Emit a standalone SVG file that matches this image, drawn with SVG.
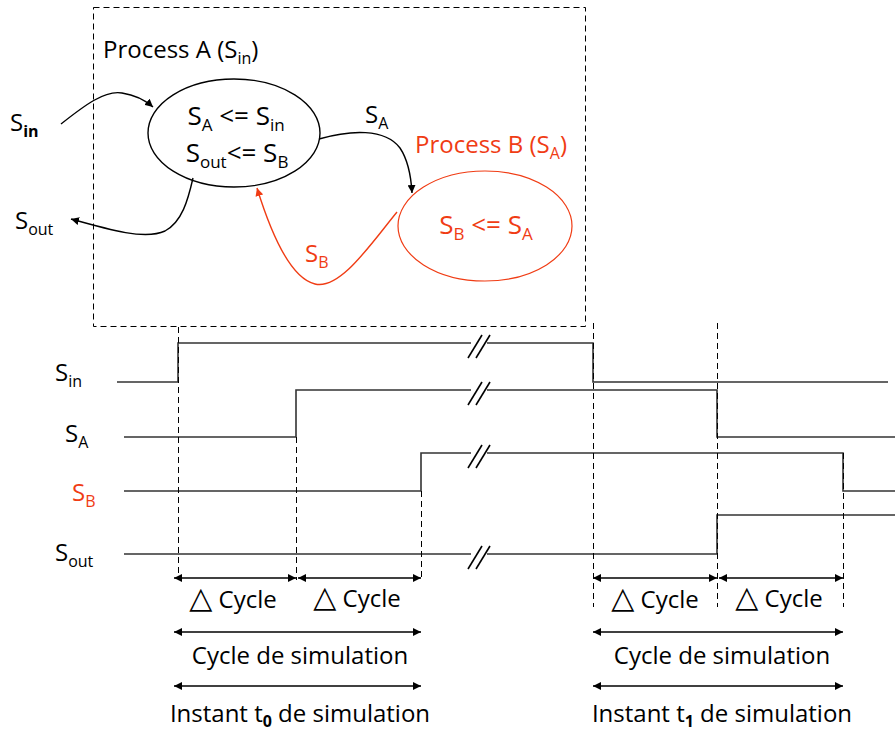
<svg xmlns="http://www.w3.org/2000/svg" width="895" height="731" viewBox="0 0 895 731">
<style>
text{font-family:"Open Sans","Noto Sans","DejaVu Sans",sans-serif;fill:#000}
.r{fill:#f03c14}
.lbl{font-size:24px}
.big{font-size:26px}
.sub{font-size:16px}
.sub2{font-size:17px}
.tri{font-size:30px}
.ln{fill:none;stroke:#000;stroke-width:1.4}
.rl{fill:none;stroke:#f03c14;stroke-width:1.4}
.sig{fill:none;stroke:#333;stroke-width:1.6}
.dash{fill:none;stroke:#000;stroke-width:1;stroke-dasharray:6,4}
.mk{stroke:#000;stroke-width:1.6}
.mid{text-anchor:middle}
</style>
<defs>
<marker id="ah" viewBox="0 0 10 10" refX="10" refY="5" markerWidth="8" markerHeight="8" markerUnits="userSpaceOnUse" orient="auto-start-reverse"><path d="M0,0 L10,5 L0,10 z" fill="#000"/></marker>
<marker id="ahr" viewBox="0 0 10 10" refX="10" refY="5" markerWidth="8" markerHeight="8" markerUnits="userSpaceOnUse" orient="auto"><path d="M0,0 L10,5 L0,10 z" fill="#f03c14"/></marker>
</defs>

<rect x="93.5" y="7.5" width="492" height="319" class="dash"/>

<g id="processA">
<text x="103" y="58" class="lbl">Process A (S<tspan class="sub" dy="6">in</tspan><tspan dy="-6">)</tspan></text>
<ellipse cx="234" cy="133" rx="86" ry="54" class="ln"/>
<text x="236" y="125" class="big mid">S<tspan class="sub2" dy="6">A</tspan><tspan dy="-6"> &lt;= S</tspan><tspan class="sub2" dy="6">in</tspan></text>
<text x="237" y="162" class="big mid">S<tspan class="sub2" dy="6">out</tspan><tspan dy="-6">&lt;= S</tspan><tspan class="sub2" dy="6">B</tspan></text>
</g>

<g id="processB">
<text x="415" y="153" class="lbl r">Process B (S<tspan class="sub r" dy="6">A</tspan><tspan dy="-6">)</tspan></text>
<ellipse cx="485" cy="226" rx="87" ry="55" fill="none" stroke="#f03c14" stroke-width="1.2"/>
<text x="486" y="234" class="big mid r">S<tspan class="sub2 r" dy="6">B</tspan><tspan dy="-6"> &lt;= S</tspan><tspan class="sub2 r" dy="6">A</tspan></text>
</g>

<g id="labels-top">
<text x="10" y="131" class="lbl">S<tspan class="sub" dy="6" font-weight="bold">in</tspan></text>
<text x="15" y="229" class="lbl">S<tspan class="sub" dy="6">out</tspan></text>
<text x="365" y="123" class="lbl">S<tspan class="sub" dy="6">A</tspan></text>
<text x="305" y="262" class="lbl r">S<tspan class="sub r" dy="6">B</tspan></text>
</g>

<g id="connectors">
<path d="M61,124 C85,105 105,90 122,93 C135,95 145,100 153,107" class="ln" marker-end="url(#ah)"/>
<path d="M193,178 C188,200 182,222 165,231 C145,240 110,230 71,219" class="ln" marker-end="url(#ah)"/>
<path d="M319,139 C350,130 385,128 400,148 C408,160 411,175 412,193" class="ln" marker-end="url(#ah)"/>
<path d="M397,212 C370,245 340,290 315,284 C290,278 270,230 257,188" class="rl" marker-end="url(#ahr)"/>
</g>

<g id="timing">
<text x="55" y="381" class="lbl">S<tspan class="sub" dy="6">in</tspan></text>
<text x="65" y="442" class="lbl">S<tspan class="sub" dy="6">A</tspan></text>
<text x="72" y="501" class="lbl r">S<tspan class="sub r" dy="6">B</tspan></text>
<text x="55" y="561" class="lbl">S<tspan class="sub" dy="6">out</tspan></text>

<path d="M117,382 H178 V343 H471 M487,343 H593 V382 H888" class="sig"/>
<path d="M124,437 H296 V390 H471 M487,390 H717 V437 H895" class="sig"/>
<path d="M124,491 H421 V453 H471 M487,453 H843 V491 H895" class="sig"/>
<path d="M124,554 H471 M487,554 H717 V515 H895" class="sig"/>

<g class="mk">
<line x1="468" y1="358" x2="482" y2="335"/><line x1="476" y1="358" x2="490" y2="335"/>
<line x1="468" y1="405" x2="482" y2="382"/><line x1="476" y1="405" x2="490" y2="382"/>
<line x1="468" y1="468" x2="482" y2="445"/><line x1="476" y1="468" x2="490" y2="445"/>
<line x1="468" y1="569" x2="482" y2="546"/><line x1="476" y1="569" x2="490" y2="546"/>
</g>

<line x1="178.5" y1="327" x2="178.5" y2="580" class="dash"/>
<line x1="296.5" y1="437" x2="296.5" y2="580" class="dash"/>
<line x1="421.5" y1="491" x2="421.5" y2="580" class="dash"/>
<line x1="593.5" y1="323" x2="593.5" y2="607" class="dash"/>
<line x1="717.5" y1="323" x2="717.5" y2="607" class="dash"/>
<line x1="843.5" y1="453" x2="843.5" y2="607" class="dash"/>

<g class="ln">
<line x1="174" y1="578" x2="296" y2="578" marker-start="url(#ah)" marker-end="url(#ah)"/>
<line x1="298" y1="578" x2="421" y2="578" marker-start="url(#ah)" marker-end="url(#ah)"/>
<line x1="174" y1="632" x2="421" y2="632" marker-start="url(#ah)" marker-end="url(#ah)"/>
<line x1="174" y1="686" x2="421" y2="686" marker-start="url(#ah)" marker-end="url(#ah)"/>
<line x1="593" y1="578" x2="717" y2="578" marker-start="url(#ah)" marker-end="url(#ah)"/>
<line x1="719" y1="578" x2="843" y2="578" marker-start="url(#ah)" marker-end="url(#ah)"/>
<line x1="593" y1="632" x2="843" y2="632" marker-start="url(#ah)" marker-end="url(#ah)"/>
<line x1="593" y1="686" x2="843" y2="686" marker-start="url(#ah)" marker-end="url(#ah)"/>
</g>

<text x="233" y="608" class="lbl mid"><tspan class="tri">△</tspan> Cycle</text>
<text x="357" y="607" class="lbl mid"><tspan class="tri">△</tspan> Cycle</text>
<text x="300" y="664" class="lbl mid">Cycle de simulation</text>
<text x="300" y="722" class="lbl mid">Instant t<tspan class="sub" dy="5" font-weight="bold">0</tspan><tspan dy="-5"> de simulation</tspan></text>
<text x="655" y="608" class="lbl mid"><tspan class="tri">△</tspan> Cycle</text>
<text x="779" y="607" class="lbl mid"><tspan class="tri">△</tspan> Cycle</text>
<text x="722" y="664" class="lbl mid">Cycle de simulation</text>
<text x="722" y="722" class="lbl mid">Instant t<tspan class="sub" dy="5" font-weight="bold">1</tspan><tspan dy="-5"> de simulation</tspan></text>
</g>
</svg>
